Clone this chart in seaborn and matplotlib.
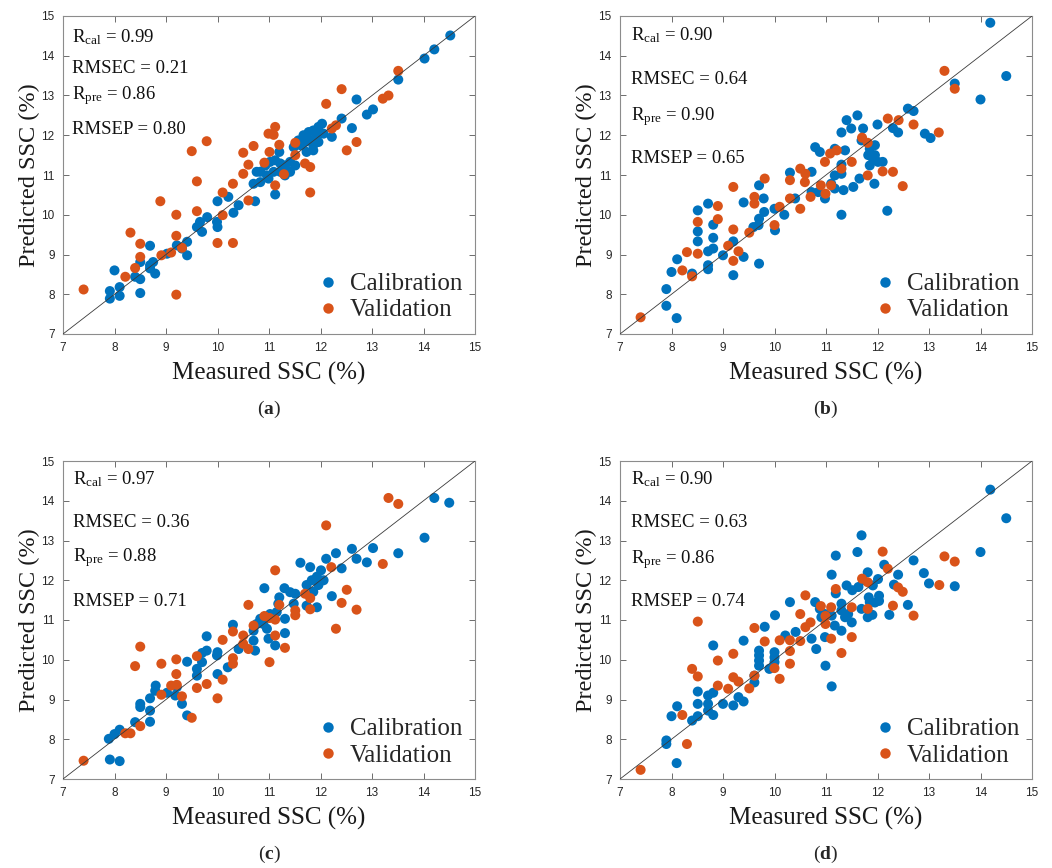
import numpy as np
import pandas as pd
import matplotlib
matplotlib.use("Agg")
import matplotlib.pyplot as plt
import seaborn as sns
from matplotlib.lines import Line2D

# measured vs predicted SSC (%)
a_cal = [(14.52, 14.51), (14.21, 14.16), (14.02, 13.93), (13.51, 13.40), (12.70, 12.90),
         (13.02, 12.65), (12.90, 12.52), (12.41, 12.42), (12.61, 12.18), (12.22, 11.96),
         (11.51, 11.24), (11.20, 11.58), (10.76, 11.08), (10.70, 10.78), (11.12, 10.51),
         (11.31, 10.99), (10.73, 10.34), (10.00, 10.34), (10.21, 10.45), (10.41, 10.24),
         (10.31, 10.05), (9.99, 9.82), (10.00, 9.69), (9.80, 9.94), (9.66, 9.82),
         (9.60, 9.69), (9.70, 9.57), (9.41, 9.32), (9.21, 9.23), (9.31, 9.15),
         (9.41, 8.98), (9.02, 9.02), (8.69, 9.22), (8.75, 8.81), (8.69, 8.73),
         (8.79, 8.52), (8.69, 8.65), (8.50, 8.81), (8.40, 8.44), (8.50, 8.38),
         (8.00, 8.60), (8.50, 8.03), (8.10, 8.18), (8.10, 7.96), (7.91, 8.08), (7.91, 7.89),
         (11.67, 12.00), (11.77, 12.08), (11.86, 12.12), (11.96, 12.21), (12.03, 12.29),
         (11.93, 12.00), (11.80, 11.87), (11.70, 11.83), (11.86, 11.75), (11.96, 11.83),
         (12.06, 12.04), (11.61, 11.75), (11.73, 11.58), (11.86, 11.62), (11.48, 11.70),
         (11.57, 11.87), (10.83, 11.08), (10.93, 11.24), (11.02, 11.33), (11.12, 11.37),
         (11.22, 11.29), (11.31, 11.24), (11.41, 11.33), (10.96, 10.99), (11.09, 11.08),
         (11.22, 11.08), (10.83, 10.82), (10.99, 10.91), (11.41, 11.08)]
a_val = [(7.40, 8.12), (8.21, 8.44), (8.40, 8.66), (8.50, 8.94), (8.50, 9.27), (8.31, 9.55),
         (8.89, 10.34), (8.91, 8.98), (9.10, 9.05), (9.20, 9.47), (9.20, 10.00), (9.31, 9.17),
         (9.20, 7.99), (9.50, 11.60), (9.79, 11.85), (9.60, 10.84), (9.60, 10.09), (10.00, 9.29),
         (10.30, 9.29), (10.10, 9.99), (10.10, 10.56), (10.30, 10.78), (10.50, 11.03),
         (10.60, 11.26), (10.50, 11.56), (10.70, 11.73), (10.60, 10.36), (10.91, 11.31),
         (11.01, 11.58), (10.99, 12.04), (11.12, 12.21), (11.09, 12.01), (11.20, 11.76),
         (11.12, 10.74), (11.29, 11.02), (11.51, 11.81), (11.51, 11.50), (11.70, 11.29),
         (11.80, 11.20), (11.80, 10.56), (12.11, 12.79), (12.22, 12.17), (12.30, 12.25),
         (12.41, 13.16), (12.51, 11.62), (12.70, 11.83), (13.21, 12.92), (13.32, 13.00),
         (13.51, 13.62)]

b_cal = [(14.19, 14.83), (14.50, 13.49), (13.50, 13.30), (14.00, 12.90), (12.59, 12.67),
         (12.70, 12.61), (11.40, 12.38), (11.61, 12.50), (11.30, 12.07), (11.49, 12.17),
         (11.72, 12.17), (12.00, 12.27), (12.30, 12.18), (12.40, 12.07), (12.92, 12.04),
         (13.03, 11.93), (10.79, 11.70), (10.88, 11.58), (11.17, 11.66), (11.37, 11.62),
         (11.30, 11.26), (11.17, 10.99), (11.30, 11.03), (11.69, 11.87), (11.85, 11.66),
         (11.95, 11.75), (11.82, 11.50), (11.92, 11.37), (12.01, 11.33), (12.10, 11.33),
         (11.85, 11.24), (11.95, 11.50), (11.94, 10.78), (11.65, 10.91), (11.53, 10.70),
         (11.34, 10.62), (11.10, 10.78), (11.17, 10.66), (11.30, 10.00), (12.19, 10.10),
         (10.98, 10.41), (10.85, 10.57), (10.72, 10.57), (10.72, 11.08), (10.30, 11.06),
         (10.40, 10.41), (10.19, 10.00), (10.00, 10.15), (10.01, 9.61), (9.80, 10.07),
         (9.70, 9.90), (9.69, 9.74), (9.59, 9.69), (9.70, 10.74), (9.79, 10.41),
         (9.40, 10.31), (9.20, 9.33), (9.40, 8.94), (9.70, 8.77), (9.20, 8.48),
         (9.00, 8.98), (8.81, 9.75), (8.81, 9.42), (8.81, 9.15), (8.71, 9.08),
         (8.71, 10.28), (8.51, 10.11), (8.51, 9.58), (8.51, 9.33), (8.71, 8.73),
         (8.71, 8.63), (8.40, 8.52), (8.11, 8.88), (8.00, 8.56), (7.90, 8.13),
         (7.90, 7.71), (8.10, 7.40)]
b_val = [(7.40, 7.42), (8.21, 8.60), (8.40, 8.45), (8.30, 9.06), (8.51, 9.02), (8.51, 9.82),
         (8.90, 10.22), (8.90, 9.89), (9.20, 10.70), (9.20, 9.63), (9.10, 9.22), (9.20, 8.84),
         (9.30, 9.08), (9.51, 9.55), (9.61, 10.45), (9.61, 10.28), (9.81, 10.91), (10.10, 10.20),
         (10.00, 9.74), (10.30, 10.87), (10.30, 10.41), (10.50, 10.15), (10.50, 11.16),
         (10.60, 11.03), (10.59, 10.82), (10.70, 10.45), (10.90, 10.74), (10.99, 10.53),
         (11.10, 10.74), (10.98, 11.33), (11.08, 11.54), (11.21, 11.62), (11.30, 11.16),
         (11.50, 11.33), (11.70, 11.94), (11.81, 11.81), (11.81, 10.99), (12.10, 11.09),
         (12.30, 11.08), (12.20, 12.42), (12.41, 12.38), (12.70, 12.27), (12.49, 10.72),
         (13.19, 12.07), (13.30, 13.62), (13.50, 13.17)]

c_cal = [(14.21, 14.07), (14.50, 13.95), (14.02, 13.07), (13.51, 12.68), (12.61, 12.79),
         (12.70, 12.54), (13.02, 12.81), (12.90, 12.45), (12.30, 12.68), (12.11, 12.54),
         (12.41, 12.30), (11.61, 12.44), (11.80, 12.33), (12.01, 12.25), (11.93, 12.09),
         (11.83, 12.00), (11.73, 11.88), (11.96, 11.88), (11.86, 11.71), (12.06, 12.00),
         (12.22, 11.60), (10.91, 11.80), (11.30, 11.80), (11.41, 11.70), (11.51, 11.66),
         (11.20, 11.57), (11.18, 11.41), (11.48, 11.41), (11.73, 11.36), (11.93, 11.32),
         (11.15, 11.20), (11.02, 11.15), (11.31, 11.03), (10.83, 11.03), (10.76, 10.90),
         (10.89, 10.90), (10.96, 10.78), (10.70, 10.73), (11.31, 10.67), (10.99, 10.53),
         (11.12, 10.36), (10.70, 10.48), (10.73, 10.23), (10.30, 10.88), (10.41, 10.27),
         (10.00, 10.19), (9.99, 10.11), (10.20, 9.81), (10.00, 9.64), (9.79, 10.59),
         (9.79, 10.23), (9.70, 10.17), (9.70, 9.94), (9.60, 9.77), (9.60, 9.60),
         (9.41, 9.95), (9.21, 9.31), (9.18, 9.10), (9.31, 8.89), (9.41, 8.60),
         (9.02, 9.17), (8.80, 9.35), (8.79, 9.22), (8.69, 9.03), (8.50, 8.89),
         (8.50, 8.81), (8.69, 8.72), (8.69, 8.44), (8.40, 8.43), (8.10, 8.24),
         (8.00, 8.13), (7.89, 8.01), (7.91, 7.49), (8.10, 7.45)]
c_val = [(7.40, 7.46), (8.21, 8.15), (8.31, 8.15), (8.50, 8.33), (8.40, 9.84), (8.50, 10.33),
         (8.91, 9.90), (8.91, 9.12), (9.10, 9.35), (9.21, 9.37), (9.20, 10.01), (9.20, 9.64),
         (9.31, 9.08), (9.50, 8.54), (9.60, 10.09), (9.60, 9.29), (9.79, 9.39), (10.00, 9.03),
         (10.10, 10.50), (10.10, 9.50), (10.30, 10.71), (10.30, 10.04), (10.30, 9.90),
         (10.50, 10.61), (10.50, 10.40), (10.60, 10.27), (10.60, 11.38), (10.70, 10.86),
         (10.91, 11.10), (11.01, 11.05), (11.12, 11.01), (11.01, 9.94), (11.12, 12.25),
         (11.12, 10.61), (11.20, 11.38), (11.31, 10.30), (11.51, 11.24), (11.51, 11.12),
         (11.70, 11.66), (11.80, 11.55), (11.80, 11.27), (12.11, 13.38), (12.21, 12.33),
         (12.30, 10.78), (12.41, 11.43), (12.51, 11.76), (12.70, 11.26), (13.21, 12.41),
         (13.32, 14.07), (13.51, 13.92)]

d_cal = [(14.19, 14.28), (14.50, 13.56), (14.00, 12.71), (13.50, 11.85), (13.00, 11.92),
         (12.90, 12.18), (12.70, 12.50), (12.40, 12.14), (12.59, 11.38), (12.23, 11.13),
         (11.69, 13.13), (11.61, 12.71), (11.19, 12.62), (11.11, 12.14), (12.13, 12.39),
         (11.81, 12.20), (12.01, 12.03), (11.91, 11.87), (11.72, 12.00), (12.32, 11.89),
         (11.40, 11.87), (11.51, 11.75), (11.63, 11.83), (11.19, 11.67), (11.83, 11.57),
         (12.03, 11.61), (12.03, 11.48), (11.95, 11.44), (11.85, 11.45), (11.69, 11.28),
         (11.81, 11.07), (11.90, 11.13), (11.30, 11.41), (11.30, 11.24), (11.37, 11.07),
         (11.50, 10.94), (11.43, 11.15), (10.88, 11.28), (10.98, 11.15), (11.11, 11.11),
         (10.91, 11.07), (10.79, 11.45), (11.17, 10.86), (11.30, 10.73), (10.98, 10.57),
         (10.72, 10.53), (10.81, 10.27), (10.30, 11.45), (10.01, 11.12), (10.21, 10.61),
         (10.41, 10.70), (9.81, 10.83), (9.40, 10.48), (9.70, 10.23), (9.70, 10.11),
         (9.70, 9.98), (9.70, 9.85), (9.61, 9.60), (9.61, 9.43), (10.00, 10.19),
         (10.00, 10.06), (10.00, 9.94), (9.90, 9.77), (10.99, 9.85), (11.11, 9.33),
         (8.81, 10.36), (8.81, 9.17), (8.71, 9.10), (8.51, 9.20), (8.51, 8.89),
         (8.71, 8.89), (8.71, 8.72), (8.81, 8.61), (8.51, 8.58), (9.00, 8.89),
         (9.20, 8.85), (9.30, 9.06), (9.40, 8.95), (8.40, 8.47), (8.11, 8.83),
         (8.00, 8.58), (7.90, 7.97), (7.90, 7.88), (8.10, 7.40)]
d_val = [(7.40, 7.23), (8.21, 8.61), (8.30, 7.88), (8.40, 9.77), (8.51, 9.58), (8.51, 10.96),
         (8.90, 9.98), (8.90, 9.35), (9.10, 9.27), (9.20, 9.56), (9.30, 9.45), (9.20, 10.15),
         (9.51, 9.28), (9.61, 9.60), (9.61, 10.80), (9.81, 10.46), (10.00, 9.79), (10.10, 9.52),
         (10.10, 10.49), (10.30, 10.49), (10.30, 10.22), (10.30, 9.90), (10.50, 11.15),
         (10.50, 10.47), (10.60, 11.62), (10.60, 10.82), (10.70, 10.94), (10.90, 11.35),
         (10.99, 11.10), (10.99, 10.90), (11.10, 11.32), (11.10, 10.53), (11.19, 11.78),
         (11.30, 10.17), (11.50, 11.32), (11.50, 10.57), (11.70, 12.04), (11.81, 11.95),
         (11.81, 11.28), (12.10, 12.72), (12.20, 12.29), (12.30, 11.36), (12.40, 11.82),
         (12.49, 11.71), (12.70, 11.11), (13.20, 11.88), (13.30, 12.60), (13.50, 12.47)]

# model statistics shown in each panel
stats_a = ["0.99", "0.21", "0.86", "0.80"]
stats_b = ["0.90", "0.64", "0.90", "0.65"]
stats_c = ["0.97", "0.36", "0.88", "0.71"]
stats_d = ["0.90", "0.63", "0.86", "0.74"]
panel_letters = ["a", "b", "c", "d"]
ticks = [7, 8, 9, 10, 11, 12, 13, 14, 15]

# style
sns.set_style("ticks")
plt.rcParams['font.family'] = ['Liberation Serif', 'DejaVu Serif']
plt.rcParams['mathtext.fontset'] = 'custom'
plt.rcParams['mathtext.rm'] = 'Liberation Serif'
plt.rcParams['mathtext.it'] = 'Liberation Serif:italic'
plt.rcParams['mathtext.bf'] = 'Liberation Serif:bold'

colors = {"Calibration": "#0072BD", "Validation": "#D95319"}

W, H = 1052, 868
fig = plt.figure(figsize=(W / 100, H / 100), dpi=100)

# axes boxes in pixels: left, top
boxes = [(63, 16), (620, 16), (63, 461), (620, 461)]
aw, ah = 412, 318

# text row positions (axes fraction, baseline) for each panel
text_x = [0.022, 0.027, 0.025, 0.027]
text_rows = [[0.917, 0.820, 0.738, 0.628],
             [0.923, 0.785, 0.672, 0.537],
             [0.927, 0.791, 0.684, 0.543],
             [0.927, 0.791, 0.678, 0.543]]

panels = [(a_cal, a_val, stats_a), (b_cal, b_val, stats_b),
          (c_cal, c_val, stats_c), (d_cal, d_val, stats_d)]

for i, (cal, val, st) in enumerate(panels):
    left, top = boxes[i]
    ax = fig.add_axes([left / W, 1 - (top + ah) / H, aw / W, ah / H])

    df = pd.concat([
        pd.DataFrame(cal, columns=["measured", "predicted"]).assign(set="Calibration"),
        pd.DataFrame(val, columns=["measured", "predicted"]).assign(set="Validation"),
    ], ignore_index=True)

    sns.scatterplot(data=df, x="measured", y="predicted", hue="set",
                    palette=colors, s=52, linewidth=0, alpha=1,
                    legend=False, ax=ax, zorder=2)
    ax.plot([7, 15], [7, 15], color="#3a3a3a", lw=0.6, zorder=3)

    ax.set_xlim(7, 15)
    ax.set_ylim(7, 15)
    ax.set_xticks(ticks)
    ax.set_yticks(ticks)
    ax.tick_params(direction="in", top=True, right=True, length=4, width=0.6,
                   color="#555555", labelsize=8.5, labelcolor="#262626", pad=6)
    for lab in ax.get_xticklabels() + ax.get_yticklabels():
        lab.set_family("Liberation Sans")
    for sp in ax.spines.values():
        sp.set_color("#8c8c8c")
        sp.set_linewidth(0.8)

    ax.set_xlabel("")
    ax.set_ylabel("")
    ax.text(0.5, -0.123, "Measured SSC (%)", transform=ax.transAxes,
            ha="center", va="center", fontsize=18, color="#1a1a1a")
    ax.text(-0.082, 0.5, "Predicted SSC (%)", transform=ax.transAxes,
            ha="center", va="center", rotation=90, fontsize=17.5, color="#1a1a1a")
    ax.text(0.5, -0.237, r"($\mathbf{%s}$)" % panel_letters[i], transform=ax.transAxes,
            ha="center", va="center", fontsize=14)

    labels = [r"R$_{\mathrm{cal}}$ = " + st[0], "RMSEC = " + st[1],
              r"R$_{\mathrm{pre}}$ = " + st[2], "RMSEP = " + st[3]]
    for lab, yy in zip(labels, text_rows[i]):
        ax.text(text_x[i], yy, lab, transform=ax.transAxes, ha="left",
                va="baseline", fontsize=13.5, color="#111111")

    handles = [Line2D([], [], ls="", marker="o", ms=7.5, mec="none", color=colors[k])
               for k in colors]
    ax.legend(handles, list(colors), loc="lower right", frameon=False, fontsize=18,
              handlelength=1.0, handletextpad=0.4, labelspacing=0.15,
              borderaxespad=0.2, borderpad=0.3)

fig.savefig("out.png", dpi=100)
